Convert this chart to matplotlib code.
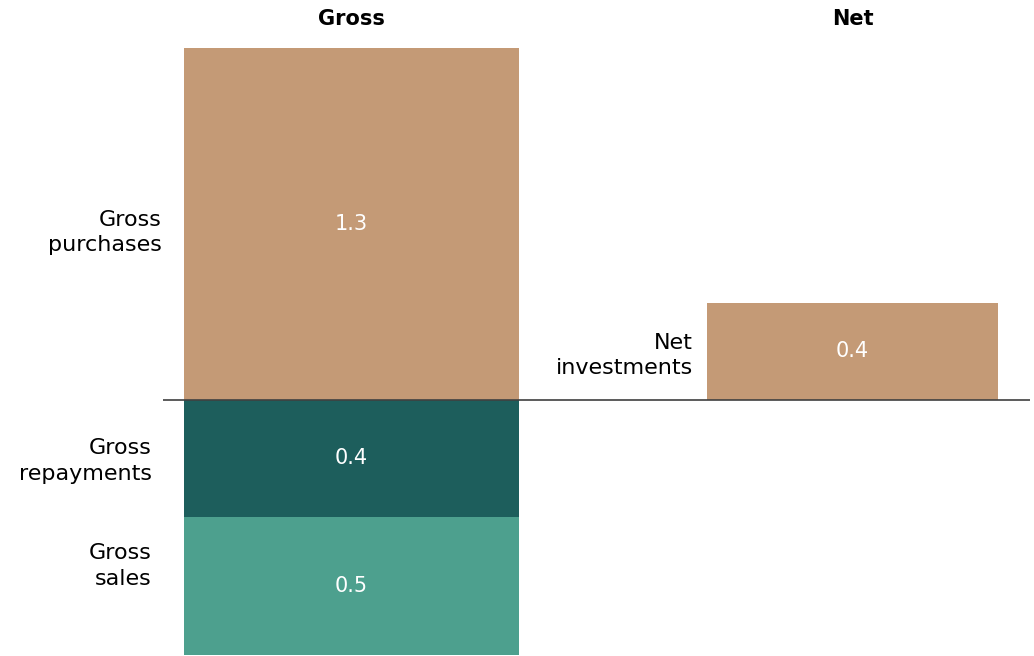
import matplotlib.pyplot as plt

# data
columns = ["Gross", "Net"]
gross_labels = ["Gross\npurchases", "Gross\nrepayments", "Gross\nsales"]
gross_values = [1.30, -0.43, -0.51]
net_labels = ["Net\ninvestments"]
net_values = [0.36]

tan = "#C49A76"
dark_teal = "#1D5E5C"
light_teal = "#4DA08E"
gross_colors = [tan, dark_teal, light_teal]

plt.rcParams['font.family'] = ['DejaVu Sans']

fig = plt.figure(figsize=(10.34, 6.56), dpi=100)
ax = fig.add_axes([163 / 1034, 0, (1030 - 163) / 1034, 1])
ax.set_xlim(-0.376, 1.354)
ax.set_ylim(-0.945, 1.477)
ax.axis("off")

gross_w = 0.669
net_w = 0.581
lab_dx = [-16, -23, -23]
lab_dy = [-6, -2, 14]

# gross column: purchases go up, repayments and sales stack downwards
neg_base = 0.0
for i, (lab, v, c) in enumerate(zip(gross_labels, gross_values, gross_colors)):
    if v >= 0:
        bottom = 0.0
    else:
        bottom = neg_base + v
        neg_base = bottom
    ax.bar(0, abs(v), bottom=bottom, width=gross_w, color=c, linewidth=0)
    mid = bottom + abs(v) / 2
    ax.text(0, mid, "%.1f" % abs(v), color="white", ha="center", va="center", fontsize=15)
    ax.annotate(lab, (-gross_w / 2, mid), xytext=(lab_dx[i], lab_dy[i]), textcoords="offset points",
                ha="right", va="center", fontsize=16, color="black", linespacing=1.35)

# net column
for lab, v in zip(net_labels, net_values):
    ax.bar(1, v, bottom=0, width=net_w, color=tan, linewidth=0)
    ax.text(1, v / 2, "%.1f" % v, color="white", ha="center", va="center", fontsize=15)
    ax.annotate(lab, (1 - net_w / 2, v / 2), xytext=(-10, -3), textcoords="offset points",
                ha="right", va="center", fontsize=16, color="black", linespacing=1.35)

ax.axhline(0, color="#404040", linewidth=1.2)

for i, col in enumerate(columns):
    ax.text(i, 1.406, col, ha="center", va="center", fontsize=15, fontweight="bold", color="black")

fig.savefig("out.png", dpi=100)
